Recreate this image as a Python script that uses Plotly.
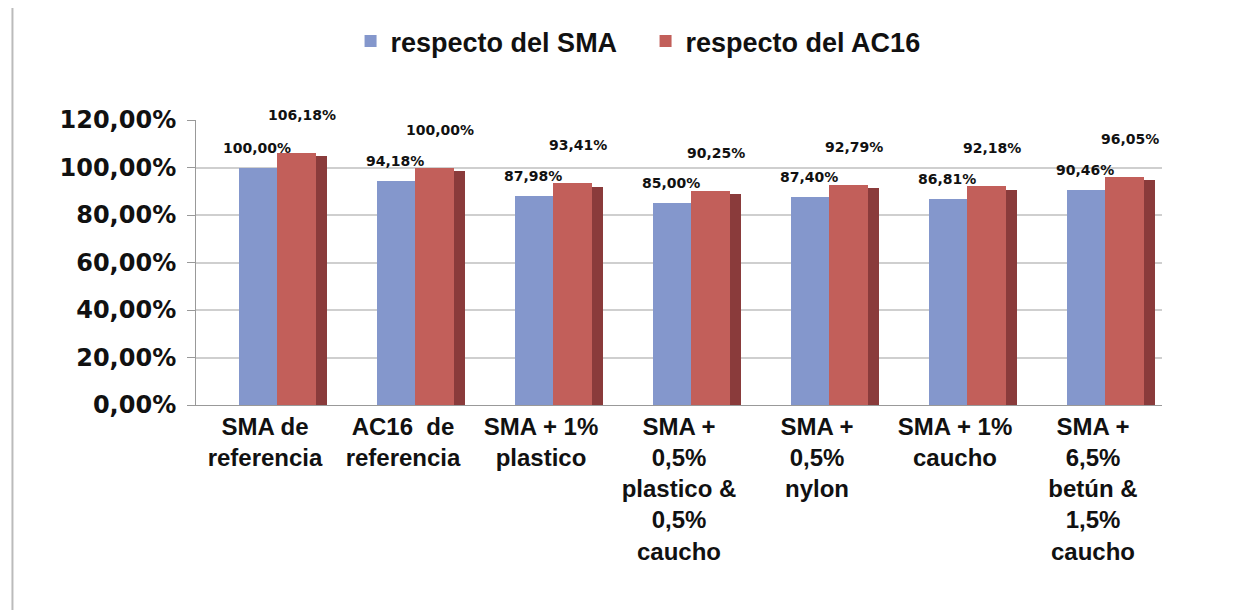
import plotly.graph_objects as go

categories = [
    "SMA de<br>referencia",
    "AC16  de<br>referencia",
    "SMA + 1%<br>plastico",
    "SMA +<br>0,5%<br>plastico &<br>0,5%<br>caucho",
    "SMA +<br>0,5%<br>nylon",
    "SMA + 1%<br>caucho",
    "SMA +<br>6,5%<br>betún &<br>1,5%<br>caucho",
]
sma = [100.00, 94.18, 87.98, 85.00, 87.40, 86.81, 90.46]
ac16 = [106.18, 100.00, 93.41, 90.25, 92.79, 92.18, 96.05]
y_ticks = [0, 20, 40, 60, 80, 100, 120]

idx = list(range(len(categories)))

def pct(v):
    return f"{v:.2f}%".replace(".", ",")

BLUE = "#8497cc"
RED = "#c25f5a"
RED_SIDE = "#8a3b3b"
LBL_FONT = "Liberation Sans, Arial, sans-serif"

fig = go.Figure()
fig.add_trace(go.Bar(x=idx, y=sma, name="respecto del SMA", marker_color=BLUE,
                     marker_line_width=0, offset=-0.19, width=0.28))
fig.add_trace(go.Bar(x=idx, y=ac16, name="respecto del AC16", marker_color=RED,
                     marker_line_width=0, offset=0.09, width=0.28))
# dark side face of the red bars (fake 3D)
fig.add_trace(go.Bar(x=idx, y=[v - 1.5 for v in ac16], name="side", marker_color=RED_SIDE,
                     marker_line_width=0, offset=0.37, width=0.08, showlegend=False,
                     hoverinfo="skip"))

for i in idx:
    fig.add_annotation(x=i - 0.06, y=sma[i], text=pct(sma[i]), showarrow=False,
                       yshift=20, font=dict(family="DejaVu Sans", size=14, color="#111", weight="bold"))
    fig.add_annotation(x=i + 0.27, y=ac16[i], text=pct(ac16[i]), showarrow=False,
                       yshift=38, font=dict(family="DejaVu Sans", size=14, color="#111", weight="bold"))

# image border on the left
fig.add_shape(type="line", xref="paper", yref="paper", x0=-0.19, x1=-0.19, y0=-0.8, y1=1.45,
              line=dict(color="#bbbbbb", width=2))

fig.update_layout(
    width=1250, height=610,
    margin=dict(l=188, r=96, t=112, b=213),
    paper_bgcolor="white", plot_bgcolor="white",
    bargap=0, barmode="overlay",
    showlegend=True,
    legend=dict(orientation="h", x=0.16, xanchor="left", xref="paper",
                y=0.945, yanchor="middle", yref="container",
                font=dict(family=LBL_FONT, size=27, color="#111", weight="bold"),
                itemwidth=30, entrywidth=250, traceorder="normal"),
    xaxis=dict(
        range=[-0.5, len(categories) - 0.5],
        tickmode="array", tickvals=idx, ticktext=categories,
        tickfont=dict(family=LBL_FONT, size=24, color="#111", weight="bold"),
        showgrid=False, showline=True, linecolor="#999", linewidth=1,
        ticks="", tickangle=0, automargin=False,
    ),
    yaxis=dict(
        range=[0, 120],
        tickmode="array", tickvals=y_ticks, ticktext=[pct(v) for v in y_ticks],
        tickfont=dict(family="DejaVu Sans", size=24, color="#111", weight="bold"),
        showgrid=True, gridcolor="#cfcfcf", gridwidth=2,
        showline=True, linecolor="#999", ticks="outside", ticklen=8, tickcolor="#999",
        ticklabelstandoff=6, zeroline=False, automargin=False,
    ),
)

fig.write_html("out.html")
